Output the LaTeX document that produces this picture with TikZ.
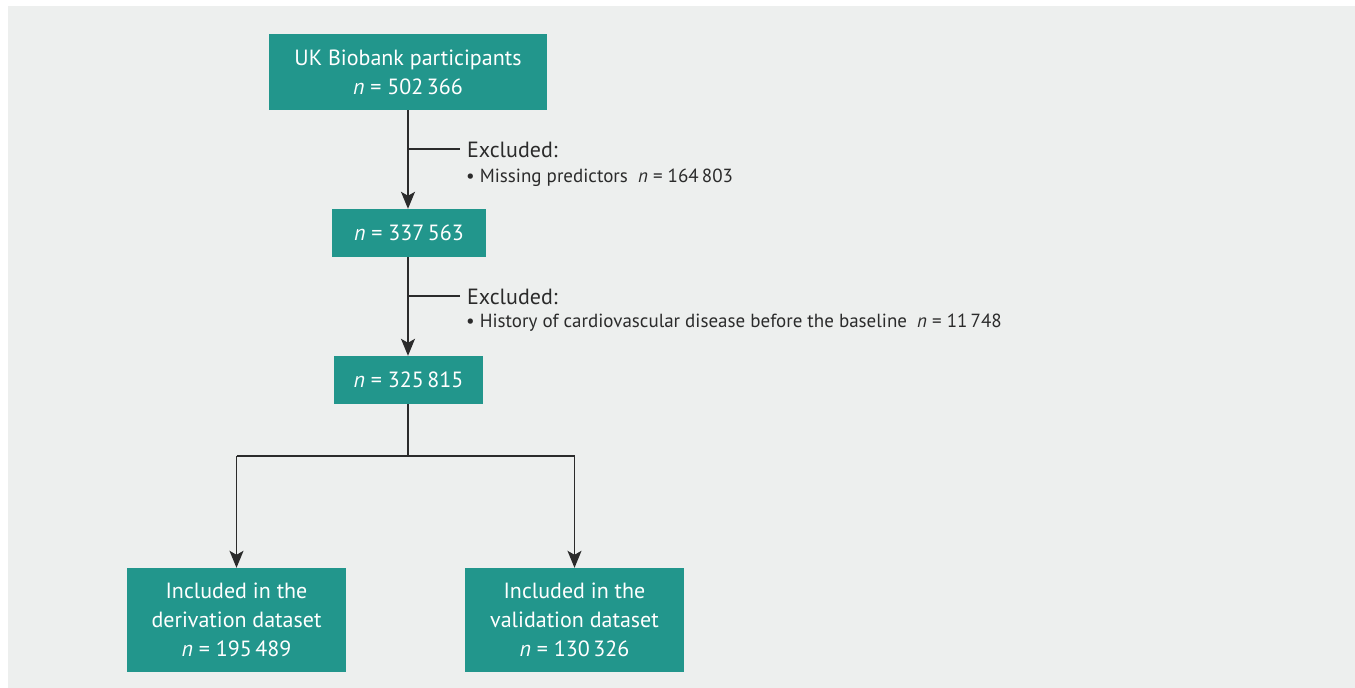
\documentclass[tikz,border=0pt]{standalone}
\usepackage{fontspec}
\setmainfont{PT Sans}
\usetikzlibrary{arrows.meta}
\definecolor{bgc}{HTML}{EDEFEE}
\definecolor{teal1}{HTML}{22968C}
\definecolor{linec}{HTML}{2B2B2B}
\begin{document}
\begin{tikzpicture}[x=1pt,y=-1pt,
  box/.style={fill=teal1, text=white, inner sep=0pt, align=center, font=\fontsize{22}{29}\selectfont},
  conn/.style={draw=linec, line width=1.4pt},
  arr/.style={conn, -{Stealth[length=17pt,width=14pt,inset=4pt]}},
  exhead/.style={anchor=west, inner sep=0pt, text=linec, font=\fontsize{22}{26}\selectfont},
  exitem/.style={anchor=west, inner sep=0pt, text=linec, font=\fontsize{19}{22}\selectfont}]
\useasboundingbox (0,0) rectangle (1355,688);
\fill[white] (0,0) rectangle (1355,688);
\fill[bgc] (8,6) rectangle (1355,688);
\node[box, minimum width=278pt, minimum height=76pt] (b1) at (408,72) {UK Biobank participants\\\textit{n} = 502\,366};
\node[box, minimum width=154pt, minimum height=48pt] (b2) at (409,233) {\textit{n} = 337\,563};
\node[box, minimum width=149pt, minimum height=48pt] (b3) at (408.5,380) {\textit{n} = 325\,815};
\node[box, minimum width=219pt, minimum height=104pt] (b4) at (236.5,620) {Included in the\\derivation dataset\\\textit{n} = 195\,489};
\node[box, minimum width=219pt, minimum height=104pt] (b5) at (574.5,620) {Included in the\\validation dataset\\\textit{n} = 130\,326};
% exclusions
\coordinate (e1) at (408,149);
\coordinate (e1r) at (460,149);
\node[exhead] (x1h) at (467,150) {Excluded:};
\node[exitem] (x1i) at (466,178) {\textbullet\ Missing predictors \ \textit{n} = 164\,803};
\coordinate (e2) at (408,296);
\coordinate (e2r) at (460,296);
\node[exhead] (x2h) at (467,297) {Excluded:};
\node[exitem] (x2i) at (466,323) {\textbullet\ History of cardiovascular disease before the baseline \ \textit{n} = 11\,748};
\draw[arr] (b1.south -| e1) -- (b2.north -| e1);
\draw[conn] (e1) -- (e1r);
\draw[arr] (b2.south -| e2) -- (b3.north -| e2);
\draw[conn] (e2) -- (e2r);
% split
\coordinate (s) at (408,456);
\coordinate (sl) at (236.5,456);
\coordinate (sr) at (574.5,456);
\draw[conn] (b3.south -| s) -- (s);
\draw[conn] (sl) -- (sr);
\draw[arr] (sl) -- (b4.north);
\draw[arr] (sr) -- (b5.north);
\end{tikzpicture}
\end{document}
